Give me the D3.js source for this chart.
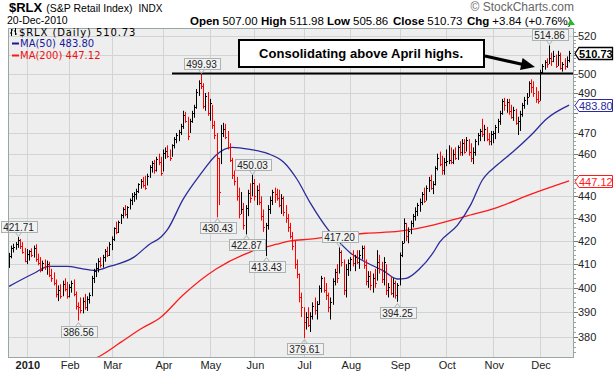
<!DOCTYPE html>
<html>
<head>
<meta charset="utf-8">
<script src="https://cdn.jsdelivr.net/npm/d3@7"></script>
<style>
body { margin: 0; background: #fff; }
text { font-family: "Liberation Sans", Arial, sans-serif; }
</style>
</head>
<body>
<script>
// session calendar (one bar per trading day)
var firstDay = "2009-12-21", lastDay = "2010-12-20";
var holidays = ["2009-12-25", "2010-01-01", "2010-01-18", "2010-02-15", "2010-04-02",
                "2010-05-31", "2010-07-05", "2010-09-06", "2010-11-25"];

// daily high / low / close
var highs = [414.8,418.0,418.8,419.5,421.71,420.9,419.5,417.0,416.5,416.0,416.8,418.0,418.6,414.5,413.0,411.5,412.0,411.5,411.0,408.0,
  406.5,403.5,401.0,401.5,403.0,404.0,402.5,401.5,403.0,403.5,398.5,394.0,396.0,396.0,397.5,396.5,398.0,405.0,408.0,410.5,
  412.5,413.0,414.0,416.5,417.5,419.5,422.0,426.0,428.5,429.0,432.0,435.0,436.0,435.5,439.0,441.5,442.0,443.5,446.0,448.0,
  449.0,449.5,450.5,454.5,456.5,457.0,458.5,460.0,458.5,462.0,463.0,464.0,462.0,464.5,468.0,470.0,471.5,474.5,481.0,480.5,
  478.0,477.0,481.0,484.0,492.0,496.5,499.93,495.0,490.0,490.5,487.0,484.0,476.0,470.0,458.0,474.0,475.0,474.5,471.0,465.0,
  458.0,452.0,449.0,444.0,442.0,437.0,436.0,443.0,446.0,450.03,448.0,445.0,446.0,440.0,434.0,428.0,436.0,440.0,443.0,444.0,
  443.5,443.0,441.0,440.0,436.0,432.0,428.0,424.0,420.0,412.0,406.0,398.0,392.0,390.0,392.0,390.0,394.0,396.0,394.5,401.0,
  405.0,404.5,402.0,398.0,396.0,404.0,408.0,410.0,417.2,416.0,412.0,410.0,412.0,413.0,416.0,414.0,416.0,416.0,418.0,418.0,
  412.0,407.0,407.0,406.0,408.0,416.0,414.0,411.0,413.0,410.0,402.0,405.0,404.0,403.0,402.0,415.0,420.0,430.0,428.0,426.0,
  429.0,432.0,435.0,437.0,439.0,442.0,444.0,445.0,449.0,450.0,447.0,454.0,460.0,461.0,459.0,458.0,462.0,464.0,463.0,462.0,
  463.0,464.0,466.0,467.0,467.0,468.0,467.0,465.0,463.0,467.0,470.0,472.0,477.0,474.0,473.0,470.0,471.0,471.0,474.0,477.0,
  481.0,487.0,487.5,487.0,487.0,484.0,483.0,482.0,478.0,481.0,485.0,488.0,490.0,496.0,497.0,496.0,493.0,491.0,502.0,505.0,
  507.0,508.0,514.86,511.0,512.0,510.0,512.0,511.0,506.0,508.0,509.0,511.98];
var lows = [408.4,412.5,415.0,416.2,417.0,416.5,414.5,410.8,410.0,411.5,413.0,412.8,411.0,409.5,406.5,407.0,407.5,405.5,404.5,402.5,
  401.0,396.0,394.5,395.5,396.5,398.5,395.5,396.0,398.0,396.5,391.0,386.56,389.5,389.5,391.0,390.5,393.5,396.5,402.0,404.5,
  406.5,408.5,408.5,411.0,413.0,413.5,416.0,420.0,423.0,423.5,427.5,430.0,431.0,430.0,434.0,436.0,437.5,438.5,441.5,443.5,
  444.0,443.0,445.0,448.5,451.0,450.5,451.5,454.5,449.5,451.5,457.5,458.0,456.5,458.5,462.5,465.0,466.0,469.0,472.0,475.0,
  466.5,470.0,475.0,477.5,482.0,488.5,492.0,482.0,481.0,478.5,476.0,472.0,467.0,430.43,436.0,455.0,468.0,467.0,462.0,456.0,
  448.0,445.0,438.0,430.0,432.0,425.0,422.87,431.0,437.0,440.0,438.0,436.0,436.0,429.0,424.0,413.43,425.0,432.0,436.0,437.0,
  438.0,435.0,432.0,431.0,428.0,424.0,421.0,416.0,408.0,404.0,394.0,388.0,379.61,383.0,384.0,382.0,387.0,389.0,387.0,393.0,
  398.0,398.0,395.0,390.0,387.0,393.0,401.0,402.0,406.0,409.0,397.0,396.0,405.0,407.0,409.0,407.0,410.0,408.0,412.0,408.0,
  401.0,400.0,399.0,398.0,400.0,403.0,406.0,402.0,401.0,397.0,396.0,397.0,396.0,395.5,394.25,401.0,413.0,419.0,420.0,419.0,
  423.0,426.0,429.0,431.0,433.0,436.0,437.0,438.0,442.0,443.0,441.0,445.0,452.0,454.0,450.0,450.0,454.0,455.0,455.0,455.0,
  457.0,457.0,459.0,459.0,460.0,461.0,459.0,456.0,455.0,459.0,464.0,466.0,468.0,466.0,466.0,464.0,464.0,465.0,467.0,470.0,
  474.0,479.0,481.0,480.0,479.0,477.0,476.0,474.0,469.0,471.0,478.0,482.0,484.0,488.0,490.0,488.0,485.0,484.5,486.0,500.0,
  502.0,503.0,505.0,504.0,506.0,503.0,504.0,502.0,501.0,502.0,503.0,505.86];
var closes = [413.5,417.0,417.5,418.9,420.5,417.6,415.3,411.2,414.5,415.8,414.0,416.9,412.0,410.5,407.5,410.5,409.0,410.0,405.5,404.0,
  402.0,397.5,399.0,396.5,401.5,399.5,396.5,400.5,402.0,397.5,392.5,392.0,391.0,394.5,392.0,395.5,397.0,404.0,407.0,408.5,
  411.5,409.5,413.0,415.5,414.0,418.5,421.0,425.5,424.0,428.5,431.5,434.0,432.0,435.0,438.5,440.0,441.0,442.5,445.5,447.0,
  445.0,444.0,449.5,453.5,455.5,452.0,457.5,456.0,451.0,460.5,461.5,459.0,458.0,464.0,467.0,469.0,470.5,473.5,479.0,476.0,
  468.5,476.0,480.0,483.0,490.5,495.0,493.5,483.5,488.5,480.0,485.0,474.0,469.0,458.0,442.0,470.0,472.0,468.0,463.0,457.0,
  450.0,447.0,440.0,432.0,434.0,427.0,434.5,441.5,439.0,446.0,440.0,443.0,437.5,431.0,426.0,427.0,434.0,438.5,442.0,441.0,
  439.0,436.0,439.0,433.0,430.0,426.0,422.0,418.0,410.0,406.0,396.0,392.0,386.0,388.0,385.0,388.5,392.5,391.0,393.5,400.0,
  404.0,399.0,397.0,392.0,394.0,403.0,406.5,404.0,415.0,411.0,399.0,408.0,410.5,412.0,410.5,413.0,411.0,414.0,417.0,409.5,
  403.0,405.0,401.0,404.0,402.0,411.0,408.0,403.5,411.0,399.0,400.5,398.0,402.0,397.0,401.0,414.0,419.0,428.0,422.0,424.5,
  428.0,431.0,433.5,436.0,437.5,441.0,438.0,444.0,447.5,444.0,445.5,453.0,458.0,455.0,452.0,456.0,456.5,457.0,456.0,460.0,
  458.0,463.0,461.0,465.0,461.0,466.5,461.0,458.0,461.0,466.0,469.0,471.0,469.5,472.0,467.0,466.0,469.5,470.0,473.0,476.0,
  480.0,486.0,484.0,485.5,481.0,478.0,481.5,475.0,476.0,479.5,484.0,486.5,488.0,495.0,493.0,490.0,487.0,486.0,501.0,504.0,
  506.0,505.0,508.0,506.5,509.0,504.0,510.0,503.0,505.0,504.0,506.89,510.73];

// moving averages, read at a few sessions (session number, value)
var ma50Sessions = [0,11,18,26,33,38,45,56,63,68,71,78,86,93,100,108,116,123,129,135,143,148,153,160,168,174,178,184,190,193,201,207,212,219,226,234,241,251];
var ma50Values = [400.6,406,409,409,408,407.3,409,413,418.6,421.6,425,438.6,450.5,459.5,463,462,460,456,448,437,425,419.5,414.8,410.8,407,403.7,404,408,414.8,419.5,427,436.3,447.3,454.8,461,469,477,483.8];
var ma200Sessions = [36,41,50,59,68,78,93,108,120,126,135,145,160,175,190,203,219,234,251];
var ma200Values = [370.7,372.7,377.9,383.2,387.9,397,408,415.2,418.6,420,420.8,422,423.4,424.3,427,430.5,435,441,447.12];

// swing labels
var swingSessions = [4, 31, 86, 93, 106, 109, 115, 132, 148, 174, 242];
var swingSides = ["hi", "lo", "hi", "lo", "lo", "hi", "lo", "lo", "hi", "lo", "hi"];

var yTicks = [380, 390, 400, 410, 420, 430, 440, 450, 460, 470, 480, 490, 500, 510, 520];
var lastClose = 510.73, lastMa50 = 483.80, lastMa200 = 447.12;

var W = 614, H = 374;
var plot = {left: 8, right: 574, top: 28, bottom: 357};

var svg = d3.select("body").append("svg").attr("width", W).attr("height", H);

var fmt = d3.timeFormat("%Y-%m-%d"), parse = d3.timeParse("%Y-%m-%d");
var dates = d3.timeDay.range(parse(firstDay), d3.timeDay.offset(parse(lastDay), 1))
  .filter(function(d) { return d.getDay() % 6 != 0 && holidays.indexOf(fmt(d)) < 0; });

var x = d3.scaleLinear().domain([-0.45, 253.2]).range([plot.left, plot.right]);
var y = d3.scaleLog().domain([372.2, 524.3]).range([plot.bottom, plot.top]);

// month starts
var monthIdx = [];
dates.forEach(function(d, i) {
  if (i > 0 && d.getMonth() != dates[i - 1].getMonth()) monthIdx.push(i);
});

// plot background
svg.append("rect")
  .attr("x", plot.left).attr("y", plot.top)
  .attr("width", plot.right - plot.left).attr("height", plot.bottom - plot.top)
  .attr("fill", "#eeeeee");

var grid = svg.append("g").attr("stroke", "#d2d4d4").attr("stroke-width", 1);
grid.selectAll(".gy").data(yTicks).enter().append("line")
  .attr("x1", plot.left).attr("x2", plot.right)
  .attr("y1", function(d) { return Math.round(y(d)) + 0.5; })
  .attr("y2", function(d) { return Math.round(y(d)) + 0.5; });
grid.selectAll(".gx").data(monthIdx).enter().append("line")
  .attr("y1", plot.top).attr("y2", plot.bottom)
  .attr("x1", function(i) { return Math.round(x(i)) + 0.5; })
  .attr("x2", function(i) { return Math.round(x(i)) + 0.5; });

svg.append("clipPath").attr("id", "clip").append("rect")
  .attr("x", plot.left).attr("y", plot.top)
  .attr("width", plot.right - plot.left).attr("height", plot.bottom - plot.top);

var body = svg.append("g").attr("clip-path", "url(#clip)");

// moving averages
var maLine = d3.line()
  .x(function(d) { return x(d[0]); })
  .y(function(d) { return y(d[1]); })
  .curve(d3.curveMonotoneX);

body.append("path")
  .attr("d", maLine(d3.zip(ma200Sessions, ma200Values)))
  .attr("fill", "none").attr("stroke", "#ff1a1a").attr("stroke-width", 1.3);
body.append("path")
  .attr("d", maLine(d3.zip(ma50Sessions, ma50Values)))
  .attr("fill", "none").attr("stroke", "#2a2a9c").attr("stroke-width", 1.3);

// price bars
var barColor = function(i) { return i > 0 && closes[i] < closes[i - 1] ? "#ff0000" : "#000000"; };
var bars = body.selectAll(".bar").data(closes).enter().append("g")
  .attr("stroke", function(d, i) { return barColor(i); });
bars.append("line")
  .attr("x1", function(d, i) { return Math.round(x(i)) + 0.5; })
  .attr("x2", function(d, i) { return Math.round(x(i)) + 0.5; })
  .attr("y1", function(d, i) { return y(highs[i]); })
  .attr("y2", function(d, i) { return y(lows[i]); });
bars.append("line")
  .attr("x1", function(d, i) { return Math.round(x(i)) + 0.5; })
  .attr("x2", function(d, i) { return Math.round(x(i)) + 2; })
  .attr("y1", function(d) { return Math.round(y(d)) + 0.5; })
  .attr("y2", function(d) { return Math.round(y(d)) + 0.5; });

// horizontal line at the April high
svg.append("line")
  .attr("x1", 172).attr("x2", plot.right)
  .attr("y1", y(500)).attr("y2", y(500))
  .attr("stroke", "#000").attr("stroke-width", 2);

// swing high / low labels
swingSessions.forEach(function(i, k) {
  var hi = swingSides[k] == "hi";
  var v = hi ? highs[i] : lows[i];
  var cx = Math.round(x(i)) + 0.5, py = y(v);
  var t = svg.append("text").attr("x", cx).attr("text-anchor", "middle")
    .attr("font-size", 10).attr("fill", "#222").text(v.toFixed(2));
  var w = t.node().getComputedTextLength() + 5, h = 11;
  var top = hi ? Math.round(py - 5 - h) + 0.5 : Math.round(py + 5) + 0.5;
  t.attr("y", top + 9);
  svg.insert("rect", "text:last-of-type")
    .attr("x", Math.round(cx - w / 2) + 0.5).attr("y", top)
    .attr("width", Math.round(w)).attr("height", h)
    .attr("fill", "#f2f2f2").attr("stroke", "#a9b3b3");
  t.raise();
  var edge = hi ? top + h : top;
  var tip = hi ? edge + 4 : edge - 4;
  svg.append("path")
    .attr("d", "M" + (cx - 3) + "," + edge + "L" + cx + "," + tip + "L" + (cx + 3) + "," + edge)
    .attr("fill", "none").attr("stroke", "#a9b3b3");
});

// plot frame
svg.append("rect")
  .attr("x", plot.left + 0.5).attr("y", plot.top + 0.5)
  .attr("width", plot.right - plot.left - 1).attr("height", plot.bottom - plot.top)
  .attr("fill", "none").attr("stroke", "#9aa6a6");

// right axis (labels hidden behind a value tag are left out)
var tagVals = [lastClose, lastMa50, lastMa200];
var freeTicks = yTicks.filter(function(d) {
  return tagVals.every(function(v) { return Math.abs(y(d) - y(v)) > 9; });
});
var ax = svg.append("g");
ax.selectAll(".mt").data(d3.range(374, 524, 2)).enter().append("line")
  .attr("x1", plot.right).attr("x2", plot.right + 2)
  .attr("y1", function(d) { return Math.round(y(d)) + 0.5; })
  .attr("y2", function(d) { return Math.round(y(d)) + 0.5; })
  .attr("stroke", "#9aa6a6");
ax.selectAll(".tk").data(yTicks).enter().append("line")
  .attr("x1", plot.right).attr("x2", plot.right + 4)
  .attr("y1", function(d) { return Math.round(y(d)) + 0.5; })
  .attr("y2", function(d) { return Math.round(y(d)) + 0.5; })
  .attr("stroke", "#777");
ax.selectAll(".tl").data(freeTicks).enter().append("text")
  .attr("x", plot.right + 4).attr("y", function(d) { return y(d) + 4; })
  .attr("font-size", 11).attr("fill", "#222").text(function(d) { return d; });

// value tags on the right
function tag(v, color, bold) {
  var yc = Math.round(y(v)) + 0.5;
  svg.append("path")
    .attr("d", "M" + (plot.right + 1) + "," + yc + "L" + (plot.right + 5) + "," + (yc - 6) +
      "L612.5," + (yc - 6) + "L612.5," + (yc + 6) + "L" + (plot.right + 5) + "," + (yc + 6) + "Z")
    .attr("fill", "#fff").attr("stroke", color).attr("stroke-width", bold ? 1.3 : 1);
  svg.append("text").attr("x", plot.right + 5).attr("y", yc + 4)
    .attr("font-size", 11).attr("font-weight", bold ? "bold" : "normal")
    .attr("fill", bold ? "#000" : color).text(v.toFixed(2));
}
tag(lastMa200, "#ff1a1a", false);
tag(lastMa50, "#2a2a9c", false);
tag(lastClose, "#000", true);

// x axis labels
svg.selectAll(".ml").data(monthIdx).enter().append("text")
  .attr("x", function(i) { return x(i) + 1; }).attr("y", 369)
  .attr("text-anchor", "middle").attr("font-size", 11)
  .attr("font-weight", function(i) { return dates[i].getMonth() == 0 ? "bold" : "normal"; })
  .attr("fill", "#222")
  .text(function(i) { return dates[i].getMonth() == 0 ? d3.timeFormat("%Y")(dates[i]) : d3.timeFormat("%b")(dates[i]); });

// titles
var t1 = svg.append("text").attr("x", 9).attr("y", 12).attr("fill", "#000");
t1.append("tspan").attr("font-size", 13).attr("font-weight", "bold").text("$RLX");
t1.append("tspan").attr("font-size", 10.5).attr("dx", 4).text("(S&P Retail Index)");
t1.append("tspan").attr("font-size", 10).attr("dx", 6).text("INDX");

svg.append("text").attr("x", 7).attr("y", 24).attr("font-size", 10.5).text("20-Dec-2010");
svg.append("text").attr("x", 574).attr("y", 11).attr("text-anchor", "end")
  .attr("font-size", 12).attr("fill", "#666").text("\u00a9 StockCharts.com");

var quote = [["Open", "507.00", 190], ["High", "511.98", 261], ["Low", "505.86", 327],
             ["Close", "510.73", 393], ["Chg", "+3.84 (+0.76%)", 467]];
var qt = svg.append("text").attr("y", 25).attr("font-size", 11.5).attr("fill", "#000");
quote.forEach(function(q) {
  qt.append("tspan").attr("x", q[2]).attr("font-weight", "bold").text(q[0]);
  qt.append("tspan").attr("dx", 3).text(q[1]);
});
svg.append("path").attr("d", "M567,25L571,19.5L575,25Z").attr("fill", "#22bb22");

// legend
var lg = svg.append("g");
lg.append("path").attr("d", "M11.5,29V36M11.5,30H13M10,33H11.5M15.5,28V35M15.5,34H17M14,31H15.5")
  .attr("stroke", "#000").attr("fill", "none");
lg.append("text").attr("x", 19).attr("y", 36).attr("font-size", 10).attr("letter-spacing", 0.9)
  .style("font-family", "'DejaVu Sans', sans-serif").text("$RLX (Daily) 510.73");
lg.append("line").attr("x1", 12).attr("x2", 19).attr("y1", 43.5).attr("y2", 43.5).attr("stroke", "#1a1a99").attr("stroke-width", 2);
lg.append("text").attr("x", 20).attr("y", 47).attr("font-size", 10).style("font-family", "'DejaVu Sans', sans-serif")
  .attr("fill", "#1a1a99").text("MA(50) 483.80");
lg.append("line").attr("x1", 12).attr("x2", 19).attr("y1", 55.5).attr("y2", 55.5).attr("stroke", "#ff1a1a").attr("stroke-width", 2);
lg.append("text").attr("x", 20).attr("y", 59).attr("font-size", 10).style("font-family", "'DejaVu Sans', sans-serif")
  .attr("fill", "#ee1111").text("MA(200) 447.12");

// annotation box and arrow
svg.append("rect").attr("x", 239).attr("y", 40).attr("width", 245).attr("height", 27)
  .attr("fill", "#fff").attr("stroke", "#000").attr("stroke-width", 2);
svg.append("text").attr("x", 361).attr("y", 58).attr("text-anchor", "middle")
  .attr("font-size", 13).attr("font-weight", "bold").attr("textLength", 204)
  .attr("lengthAdjust", "spacing").text("Consolidating above April highs.");
svg.append("line").attr("x1", 485).attr("y1", 56).attr("x2", 523).attr("y2", 64.5)
  .attr("stroke", "#000").attr("stroke-width", 3);
svg.append("path").attr("d", "M535,67L520,70L522.6,58Z").attr("fill", "#000");
</script>
</body>
</html>
